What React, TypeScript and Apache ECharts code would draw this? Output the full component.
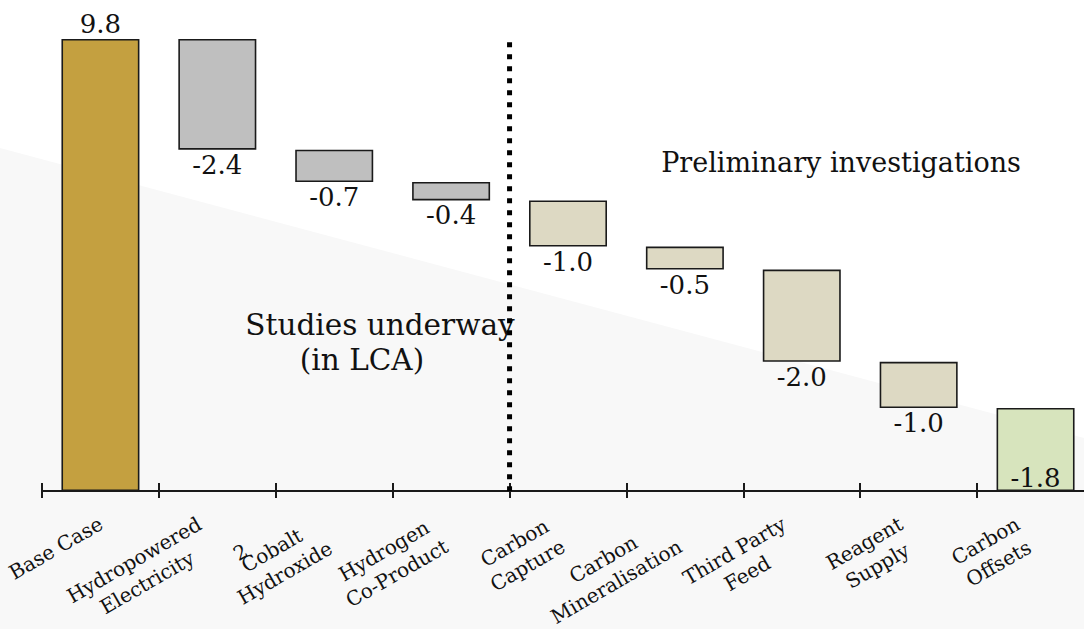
import React, { useEffect, useRef } from 'react';
import * as echarts from 'echarts';

// ---- data ----
const categories = [
  'Base Case',
  'Hydropowered\nElectricity',
  'Cobalt\nHydroxide',
  'Hydrogen\nCo-Product',
  'Carbon\nCapture',
  'Carbon\nMineralisation',
  'Third Party\nFeed',
  'Reagent\nSupply',
  'Carbon\nOffsets',
];
const categoryNotes = ['', '', '2', '', '', '', '', '', ''];
const baseCase = 9.8;
const deltas = [-2.4, -0.7, -0.4, -1.0, -0.5, -2.0, -1.0, -1.8];
const groups = ['base', 'current', 'current', 'current', 'prelim', 'prelim', 'prelim', 'prelim', 'offset'];
const dividerPosition = 4; // boundary before "Carbon Capture"
const dividerTop = 9.73;
const prelimText = 'Preliminary investigations';
const studiesLines = ['Studies underway', '(in LCA)'];

// ---- styles ----
const groupColors: Record<string, string> = {
  base: '#C4A040',
  current: '#BFBFBF',
  prelim: '#DDD9C3',
  offset: '#D7E4BD',
};
const textFont = 'DejaVu Serif';
const catFontSize = 20;

export default function App() {
  const ref = useRef<HTMLDivElement>(null);

  useEffect(() => {
    if (!ref.current) return;
    const chart = echarts.init(ref.current, undefined, { renderer: 'svg' });

    let running = baseCase;
    const helper: number[] = [0];
    const heights: number[] = [baseCase];
    const labels: string[] = [baseCase.toFixed(1)];
    deltas.forEach((d) => {
      running = Math.round((running + d) * 100) / 100;
      helper.push(Math.max(running, 0));
      heights.push(Math.round(Math.abs(d) * 100) / 100);
      labels.push(d.toFixed(1));
    });

    const n = categories.length;
    const barData = heights.map((h, i) => {
      let position = 'bottom';
      if (i === 0) position = 'top';
      if (i === n - 1) position = 'insideBottom';
      return {
        value: h,
        itemStyle: { color: groupColors[groups[i]] },
        label: {
          show: true,
          position,
          distance: i === n - 1 ? 0 : 2,
          formatter: () => labels[i],
        },
      };
    });

    const labelFormatter = (value: string, idx: number) => {
      const parts = value.split('\n');
      if (parts.length === 1) return `{s|${parts[0]}}`;
      const lines = parts.map((l) => `{c|${l}}`);
      const note = categoryNotes[idx];
      return (note ? `{n|${note}}\n` : '') + lines.join('\n');
    };

    const baseRich = { align: 'center', fontFamily: textFont, fontSize: catFontSize, color: '#111' };

    chart.setOption({
      animation: false,
      backgroundColor: '#ffffff',
      grid: {
        left: 42,
        top: 39,
        width: 1052,
        height: 452,
        containLabel: false,
        outerBoundsMode: 'none',
      },
      xAxis: [
        {
          type: 'category',
          data: categories,
          position: 'bottom',
          axisLine: { show: true, lineStyle: { color: '#1a1a1a', width: 2 } },
          axisTick: { show: true, length: 7, lineStyle: { color: '#1a1a1a', width: 2 } },
          axisLabel: {
            interval: 0,
            rotate: 30,
            margin: 6,
            align: 'right',
            verticalAlign: 'top',
            padding: [0, 12, 0, 0],
            color: '#111',
            fontFamily: textFont,
            fontSize: catFontSize,
            formatter: labelFormatter,
            rich: {
              s: { ...baseRich, lineHeight: 44, padding: [0, 0, 0, 0] },
              c: { ...baseRich, lineHeight: 26, padding: [0, 16, 0, 0] },
              n: { ...baseRich, lineHeight: 2, padding: [0, 72, 0, 0] },
            },
          },
          splitLine: { show: false },
        },
        {
          type: 'category',
          data: categories,
          position: 'bottom',
          axisLine: { show: false },
          axisTick: { show: true, inside: true, length: 8, lineStyle: { color: '#1a1a1a', width: 2 } },
          axisLabel: { show: false },
          splitLine: { show: false },
        },
        {
          type: 'value',
          min: 0,
          max: n,
          show: false,
          position: 'bottom',
          splitLine: { show: false },
        },
      ],
      yAxis: {
        type: 'value',
        min: 0,
        max: baseCase,
        show: false,
        splitLine: { show: false },
      },
      graphic: [
        {
          type: 'polygon',
          z: -100,
          silent: true,
          shape: { points: [[0, 148], [1084, 438], [1084, 629], [0, 629]] },
          style: { fill: '#F8F8F8' },
        },
        {
          type: 'text',
          x: 841,
          y: 162,
          silent: true,
          style: {
            text: prelimText,
            fontFamily: textFont,
            fontSize: 27,
            fill: '#111',
            textAlign: 'center',
            textVerticalAlign: 'middle',
          },
        },
        {
          type: 'text',
          x: 380,
          y: 342,
          silent: true,
          style: {
            text: `{a|${studiesLines[0]}}\n{b|${studiesLines[1]}}`,
            fontFamily: textFont,
            fontSize: 29.5,
            fill: '#111',
            textAlign: 'center',
            textVerticalAlign: 'middle',
            rich: {
              a: { fontFamily: textFont, fontSize: 29.5, lineHeight: 35, fill: '#111', align: 'center' },
              b: {
                fontFamily: textFont,
                fontSize: 29.5,
                lineHeight: 35,
                fill: '#111',
                align: 'center',
                padding: [0, 36, 0, 0],
              },
            },
          },
        },
      ],
      series: [
        {
          type: 'bar',
          stack: 'w',
          data: helper,
          itemStyle: { color: 'transparent', borderColor: 'transparent' },
          silent: true,
          barWidth: 78,
        },
        {
          type: 'bar',
          stack: 'w',
          data: barData,
          barWidth: 78,
          itemStyle: { borderColor: '#1a1a1a', borderWidth: 1.6 },
          label: {
            color: '#111',
            fontFamily: textFont,
            fontSize: 26,
          },
        },
        {
          type: 'line',
          xAxisIndex: 2,
          yAxisIndex: 0,
          data: [
            [dividerPosition, dividerTop],
            [dividerPosition, 0],
          ],
          symbol: 'none',
          silent: true,
          lineStyle: { color: '#000', width: 5, type: [5, 7], cap: 'butt' },
          z: 5,
        },
      ],
    });

    return () => chart.dispose();
  }, []);

  return (
    <div
      ref={ref}
      style={{ position: 'fixed', left: 0, top: 0, width: 1084, height: 629, background: '#fff' }}
    />
  );
}
